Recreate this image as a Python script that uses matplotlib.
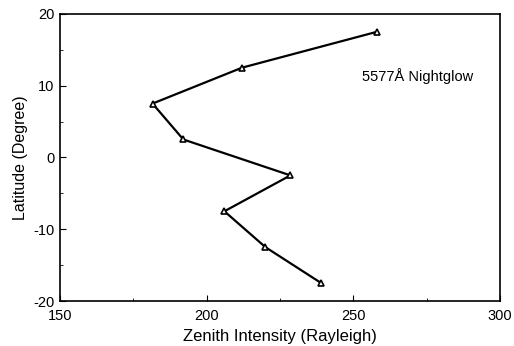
import matplotlib
matplotlib.use('Agg')
import matplotlib.pyplot as plt
from matplotlib.ticker import MultipleLocator

plt.rcParams['font.family'] = ['Liberation Sans', 'DejaVu Sans']
plt.rcParams['axes.unicode_minus'] = False

# zenith intensity (Rayleigh) vs latitude (degree)
intensity = [258, 212, 181.5, 192, 228.5, 206, 220, 239]
latitude = [17.5, 12.5, 7.5, 2.5, -2.5, -7.5, -12.5, -17.5]
x_ticks = [150, 200, 250, 300]
y_ticks = [-20, -10, 0, 10, 20]

fig = plt.figure(figsize=(5.14, 3.46), dpi=100)
ax = fig.add_axes([0.117, 0.130, 0.856, 0.830])

ax.plot(intensity, latitude, color='black', lw=1.6, marker='^', ms=5,
        mfc='white', mec='black', mew=1.2)

ax.set_xlim(150, 300)
ax.set_ylim(-20, 20)
ax.set_xticks(x_ticks)
ax.set_yticks(y_ticks)
ax.xaxis.set_minor_locator(MultipleLocator(25))
ax.yaxis.set_minor_locator(MultipleLocator(5))
ax.tick_params(which='both', direction='in', labelsize=10.5)
ax.tick_params(axis='x', pad=6)
ax.tick_params(axis='y', pad=4)
ax.tick_params(which='major', length=4)
ax.tick_params(which='minor', length=2)
for s in ax.spines.values():
    s.set_linewidth(1.2)

ax.set_xlabel('Zenith Intensity (Rayleigh)', fontsize=12, labelpad=4)
ax.set_ylabel('Latitude (Degree)', fontsize=11.5, labelpad=4)
ax.text(253, 11.4, '5577Å Nightglow', fontsize=10.5, va='center', ha='left')

fig.savefig('out.png', dpi=100)
